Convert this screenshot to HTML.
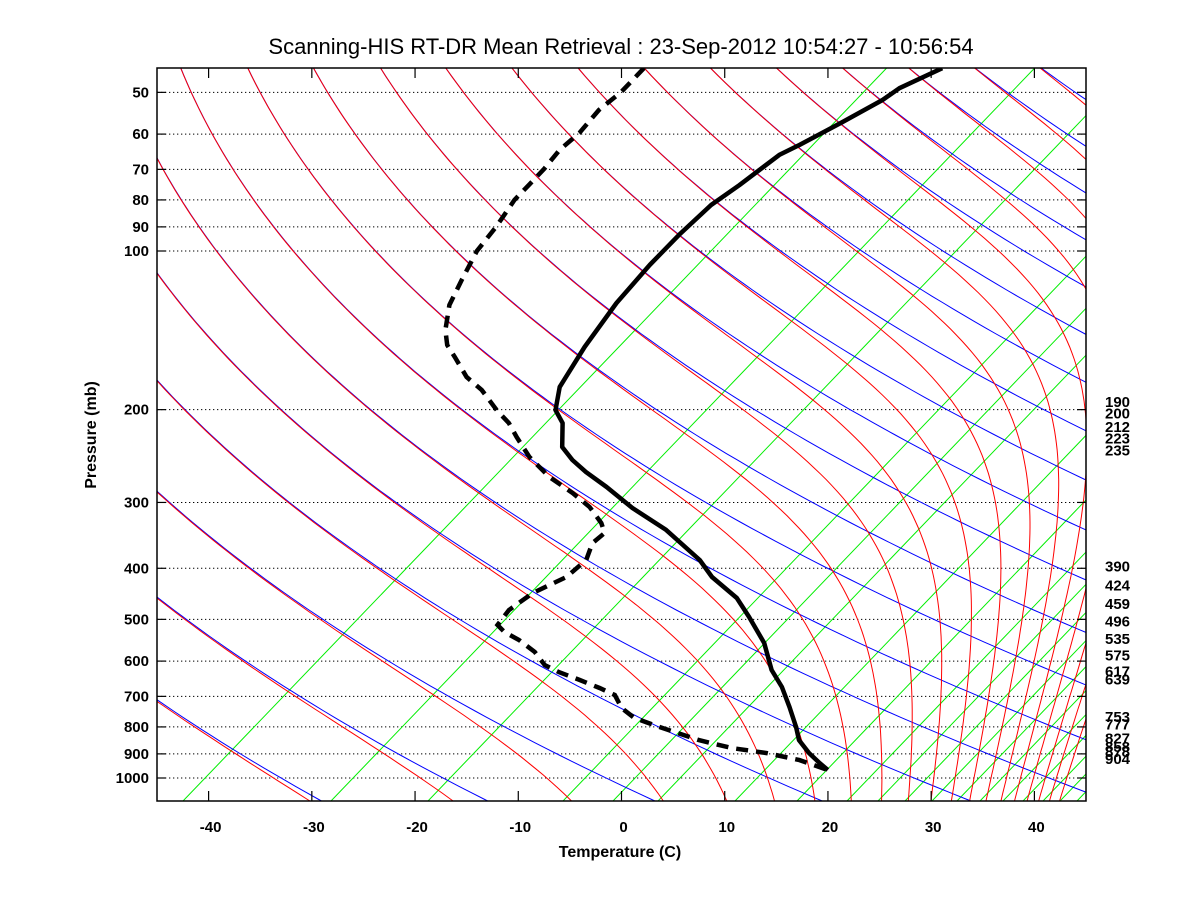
<!DOCTYPE html>
<html><head><meta charset="utf-8"><title>Scanning-HIS skew-T</title>
<style>
html,body{margin:0;padding:0;background:#fff;}
svg{display:block;font-family:"Liberation Sans",sans-serif;}
.tk{font-weight:bold;font-size:15px;fill:#000;}
</style></head>
<body>
<svg id="chart" width="1200" height="900" viewBox="0 0 1200 900" xmlns="http://www.w3.org/2000/svg">
<rect x="0" y="0" width="1200" height="900" fill="#fff"/>
<defs><clipPath id="clip"><rect x="157" y="68" width="929" height="733"/></clipPath></defs>
<text x="621" y="54" text-anchor="middle" font-size="22" fill="#000">Scanning-HIS RT-DR Mean Retrieval : 23-Sep-2012 10:54:27 - 10:56:54</text>
<g id="grid"></g>
<g id="bg" clip-path="url(#clip)"></g>
<g id="prof" clip-path="url(#clip)"></g>
<rect x="157" y="68" width="929" height="733" fill="none" stroke="#000" stroke-width="1.5"/>
<g id="axes"></g>
<text x="620" y="857" text-anchor="middle" font-size="16" font-weight="bold">Temperature (C)</text>
<text x="0" y="0" transform="translate(96,435) rotate(-90)" text-anchor="middle" font-size="16" font-weight="bold">Pressure (mb)</text>
</svg>
<script>
// ---- data ----
const pressureTicks = [50,60,70,80,90,100,200,300,400,500,600,700,800,900,1000];
const tempTicks = [-40,-30,-20,-10,0,10,20,30,40];
const levelLabels = [190,200,212,223,235,390,424,459,496,535,575,617,639,753,777,827,858,878,904];
// temperature profile (mb, C)
const tempP = [45,49.1,51.7,56.9,62.9,65.7,75.0,81.8,93.2,106.3,125.5,152.1,181.2,200.4,212.1,235.5,249.2,262.7,280.4,307.4,338.3,385.8,415.6,455.4,494.9,554.4,623.9,671.9,733.5,800.5,847.4,896.9,936.8,965.6];
const tempT = [-73.7,-74.9,-74.8,-75.4,-76.2,-76.7,-76.1,-75.9,-74.6,-73.0,-70.6,-67.2,-63.7,-60.7,-58.1,-54.6,-51.7,-48.6,-44.4,-38.8,-32.3,-24.6,-20.9,-15.4,-11.4,-6.1,-1.4,2.1,5.8,9.4,11.6,14.5,17.0,18.8];
// dewpoint profile (mb, C)
const dewP = [45,49.9,54.0,59.7,64.3,69.9,75.0,80.0,90.0,100,113.5,126.6,141.2,150.8,158.9,173.4,183.6,200.4,212.1,225.4,246.0,268.5,287.9,306.0,328.2,342.9,358.3,385.8,415.6,445.7,480.0,512.5,528.4,547.2,576.7,610.6,629.6,651.8,675.0,695.9,736.7,769.5,800.5,847.4,877.6,896.9,924.8,965.6];
const dewT = [-102.6,-101.3,-100.8,-99.3,-98.7,-97.4,-96.5,-95.7,-93.5,-91.8,-89.0,-86.5,-83.2,-80.8,-78.3,-74.2,-70.8,-66.4,-63.3,-60.5,-56.3,-51.4,-46.8,-43.1,-39.6,-37.8,-37.5,-35.6,-35.0,-35.9,-35.7,-34.6,-32.9,-30.3,-27.0,-24.1,-21.7,-18.5,-15.4,-12.9,-10.3,-7.6,-3.8,1.9,6.3,10.4,14.6,18.8];
// background line families
const dryParams = [2750,2912,3074,3237,3400,3545,3680,3818,3966,4111,4259,4403,4549,4695,4841,4987,5133,5279,5425,5571,5717];
const moistParams = [2750,2912,3074,3237,3400,3545,3680,3818,3966,4111,4259,4403,4549,4695,4841,4987,5133,5279,5425,5571,5717];
const greenBaseX = [183,331,428,563,613,658,735,797,847,878,905,932,957,980,1003,1023,1043,1060,1077];

// ---- scales ----
const NS='http://www.w3.org/2000/svg';
const X0=157,X1=1086,Y0=68,Y1=801;
function yP(p){return 251+527*Math.log10(p/100);}
function xAxis(t){return X0+(t+45)*(X1-X0)/90;}
const SKEW=803;
function xTP(t,p){return xAxis(t)+SKEW*Math.log10(1000/p);}
const C=-2631,K=803,KAP=0.2552,KP=KAP*Math.LN10;
function uOfY(y){return 1-(y-251)/527;}
function yOfU(u){return 251+527*(1-u);}
const uTop=uOfY(Y0)+0.02,uBot=uOfY(Y1)-0.02;
function sF(u){return Math.pow(10,-KAP*u);}
function mk(tag,attrs,parent){const e=document.createElementNS(NS,tag);for(const k in attrs)e.setAttribute(k,attrs[k]);parent.appendChild(e);return e;}

const grid=document.getElementById('grid');
const bg=document.getElementById('bg');
const prof=document.getElementById('prof');
const axes=document.getElementById('axes');

pressureTicks.forEach(p=>{
  const y=yP(p);
  const l=mk('line',{x1:X0,x2:X1,y1:y,y2:y,stroke:'#000','stroke-width':1,'stroke-dasharray':'1.3 2.7'},grid);
  
  
});

greenBaseX.forEach((xb,i)=>{
  const x2=xb+0.96*(Y1-Y0);
  const l=mk('line',{x1:xb,y1:Y1,x2:x2,y2:Y0,stroke:'#00ee00','stroke-width':1},bg);
  
  
});

dryParams.forEach((B,i)=>{
  let d='';
  for(let k=0;k<=120;k++){const u=uBot+(uTop-uBot)*k/120;const x=C+B*sF(u)+K*u;d+=(k?'L':'M')+x.toFixed(1)+','+yOfU(u).toFixed(1);}
  const pth=mk('path',{d:d,fill:'none',stroke:'#0000ff','stroke-width':1},bg);
  
  
});

// moist adiabats: integrate downward from top using lapse-rate ratio
function lapseRatio(x,u){
  const p=1000*Math.pow(10,-u);
  const Tc=(x-622-SKEW*u)/10.32;
  const T=Tc+273.15;
  let es=6.112*Math.exp(17.67*Tc/(Tc+243.5));
  if(es>0.4*p)es=0.4*p;
  const rs=0.622*es/(p-es);
  const Lv=2.5e6,Rd=287,cp=1004;
  return (1+Lv*rs/(Rd*T))/(1+Lv*Lv*rs*0.622/(cp*Rd*T*T));
}
moistParams.forEach((B,i)=>{
  let u=uTop, x=C+B*sF(u)+K*u;
  const N=500, du=(uTop-uBot)/N;
  let d='M'+x.toFixed(1)+','+yOfU(u).toFixed(1);
  for(let k=1;k<=N;k++){
    const dry=-KP*(x-C-K*u);
    const r=lapseRatio(x,u);
    const dxdu=dry*r+K;
    x-=dxdu*du; u-=du;
    if(k%4===0)d+='L'+x.toFixed(1)+','+yOfU(u).toFixed(1);
    if(x>1400)break;
  }
  const pth=mk('path',{d:d,fill:'none',stroke:'#ff0000','stroke-width':1},bg);
  
  
});

function profPath(P,T){return P.map((p,i)=>(i?'L':'M')+xTP(T[i],p).toFixed(1)+','+yP(p).toFixed(1)).join('');}
const tl=mk('path',{d:profPath(tempP,tempT),fill:'none',stroke:'#000','stroke-width':4.5,'stroke-linejoin':'round'},prof);


const dl=mk('path',{d:profPath(dewP,dewT),fill:'none',stroke:'#000','stroke-width':4.5,'stroke-dasharray':'12 8'},prof);



pressureTicks.forEach(p=>{
  const y=yP(p);
  const a=mk('line',{x1:X0,x2:X0+9,y1:y,y2:y,stroke:'#000','stroke-width':1.2},axes);
  
  
  const b=mk('line',{x1:X1-9,x2:X1,y1:y,y2:y,stroke:'#000','stroke-width':1.2},axes);
  
  
  const t=mk('text',{x:149,y:y+5,'text-anchor':'end',class:'tk'},axes);
  t.textContent=p;
  
  
});
tempTicks.forEach(v=>{
  const x=xAxis(v);
  const a=mk('line',{x1:x,x2:x,y1:Y1,y2:Y1-10,stroke:'#000','stroke-width':1.2},axes);
  
  
  const b=mk('line',{x1:x,x2:x,y1:Y0,y2:Y0+10,stroke:'#000','stroke-width':1.2},axes);
  
  
  const t=mk('text',{x:x+2,y:832,'text-anchor':'middle',class:'tk'},axes);
  t.textContent=v;
  
  
});
levelLabels.forEach(p=>{
  const t=mk('text',{x:1105,y:yP(p)+9,class:'tk'},axes);
  t.textContent=p;
  
  
});
</script>
</body></html>
